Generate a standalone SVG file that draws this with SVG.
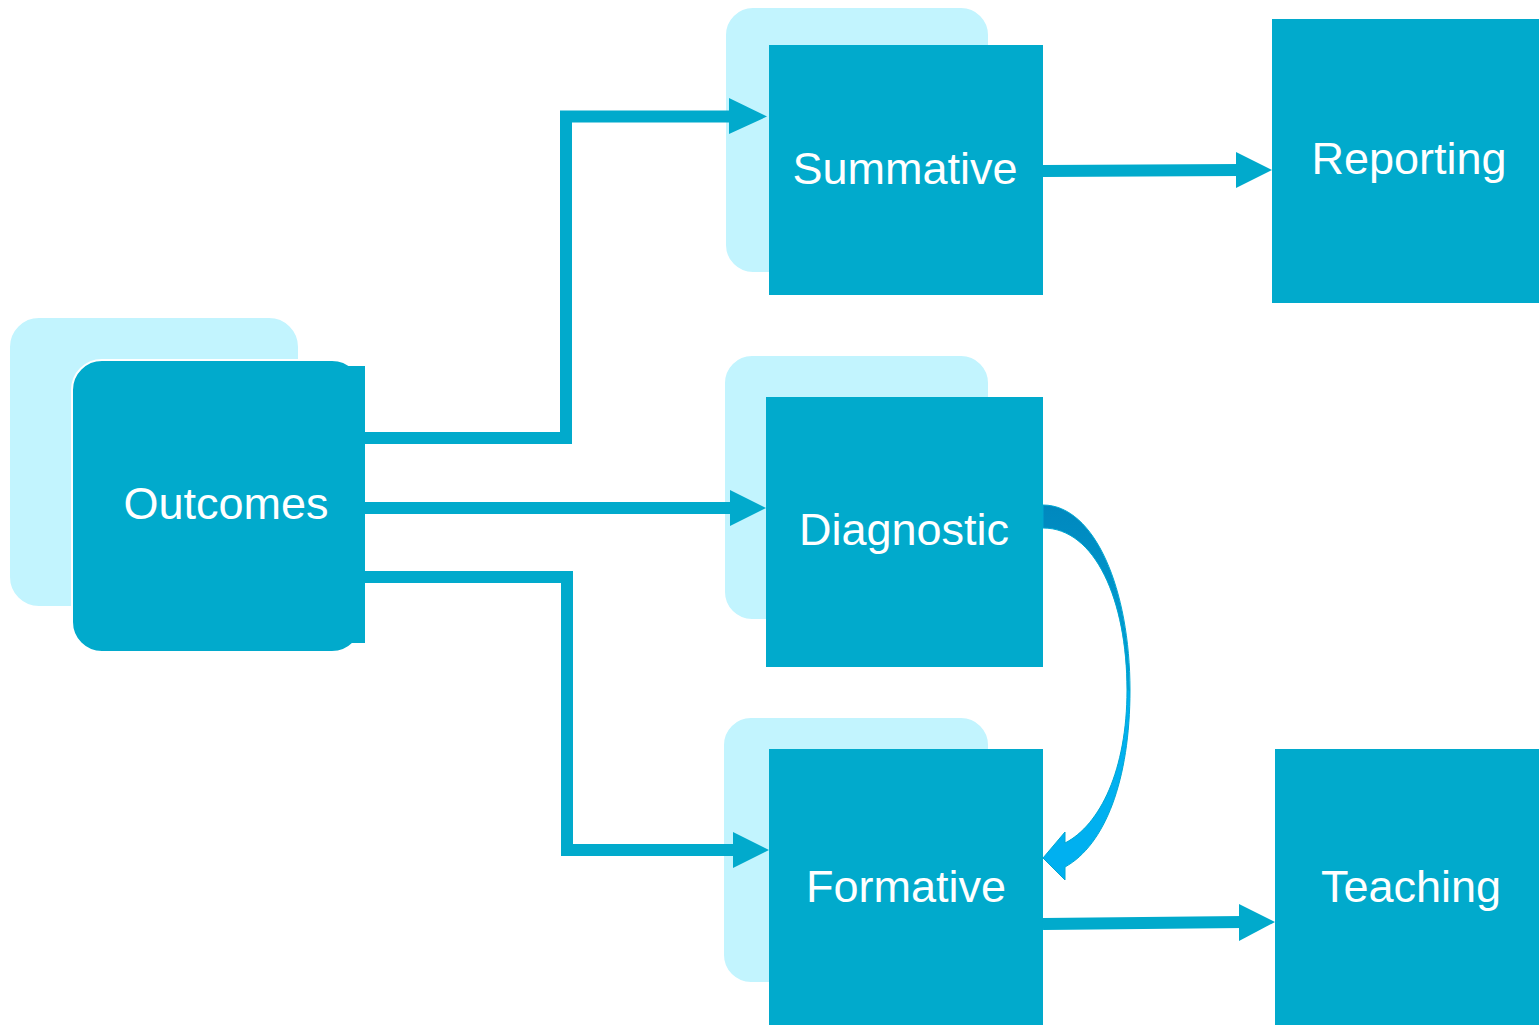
<svg xmlns="http://www.w3.org/2000/svg" width="1539" height="1025" viewBox="0 0 1539 1025">
<style>
.back{fill:#C2F4FE;stroke:#FFFFFF;stroke-width:2}
.front{fill:#01AACC}
.lbl{font-family:"Liberation Sans",Arial,sans-serif;font-size:45px;fill:#FFFFFF;text-anchor:middle}
.conn{fill:none;stroke:#01AACC;stroke-width:12}
.head{fill:#01AACC}
</style>
<defs>
<linearGradient id="curveTop" x1="0" y1="0" x2="0" y2="1">
<stop offset="0" stop-color="#0088BE"/>
<stop offset="1" stop-color="#00A2D8"/>
</linearGradient>
</defs>
<rect width="1539" height="1025" fill="#FFFFFF"/>

<g id="outcomes">
<rect class="back" x="9" y="317" width="290" height="290" rx="30"/>
<rect x="72" y="360" width="290" height="292" rx="30" fill="#01AACC" stroke="#FFFFFF" stroke-width="2"/>
<rect class="front" x="340" y="366" width="25" height="277"/>
<text class="lbl" x="226" y="519">Outcomes</text>
</g>

<g id="summative">
<rect class="back" x="725" y="7" width="264" height="266" rx="28"/>
<rect class="front" x="769" y="45" width="274" height="250"/>
<text class="lbl" x="905" y="184">Summative</text>
</g>

<g id="diagnostic">
<rect class="back" x="724" y="355" width="265" height="265" rx="28"/>
<rect class="front" x="766" y="397" width="277" height="270"/>
<text class="lbl" x="904" y="545">Diagnostic</text>
</g>

<g id="formative">
<rect class="back" x="723" y="717" width="266" height="266" rx="28"/>
<rect class="front" x="769" y="749" width="274" height="276"/>
<text class="lbl" x="906" y="902">Formative</text>
</g>

<g id="reporting">
<rect class="front" x="1272" y="19" width="267" height="284"/>
<text class="lbl" x="1409" y="174">Reporting</text>
</g>

<g id="teaching">
<rect class="front" x="1275" y="749" width="264" height="276"/>
<text class="lbl" x="1411" y="902">Teaching</text>
</g>

<g id="connectors">
<polyline class="conn" points="365,438 566,438 566,116.5 732,116.5"/>
<polygon class="head" points="729,98 767,116.5 729,134"/>
<line class="conn" x1="365" y1="508" x2="732" y2="508"/>
<polygon class="head" points="730,490 766,508 730,526"/>
<polyline class="conn" points="365,577 567,577 567,850 736,850"/>
<polygon class="head" points="733,832 769,850 733,868"/>
<line class="conn" x1="1043" y1="171" x2="1240" y2="170"/>
<polygon class="head" points="1236,152 1272,170 1236,188"/>
<line class="conn" x1="1043" y1="924" x2="1243" y2="922"/>
<polygon class="head" points="1239,904 1275,922 1239,941"/>
<path d="M1043,505 C1095,505 1130,590 1130,690 L1127,690 C1127,600 1095,528 1043,528 Z" fill="url(#curveTop)" stroke="#00A8D2" stroke-width="1"/>
<path d="M1127,690 C1127,770 1100,825 1065,843 L1065,832 L1043,858 L1065,880 L1065,867 C1105,845 1130,780 1130,690 Z" fill="#00B0F0" stroke="#00A8D2" stroke-width="1"/>
</g>
</svg>
